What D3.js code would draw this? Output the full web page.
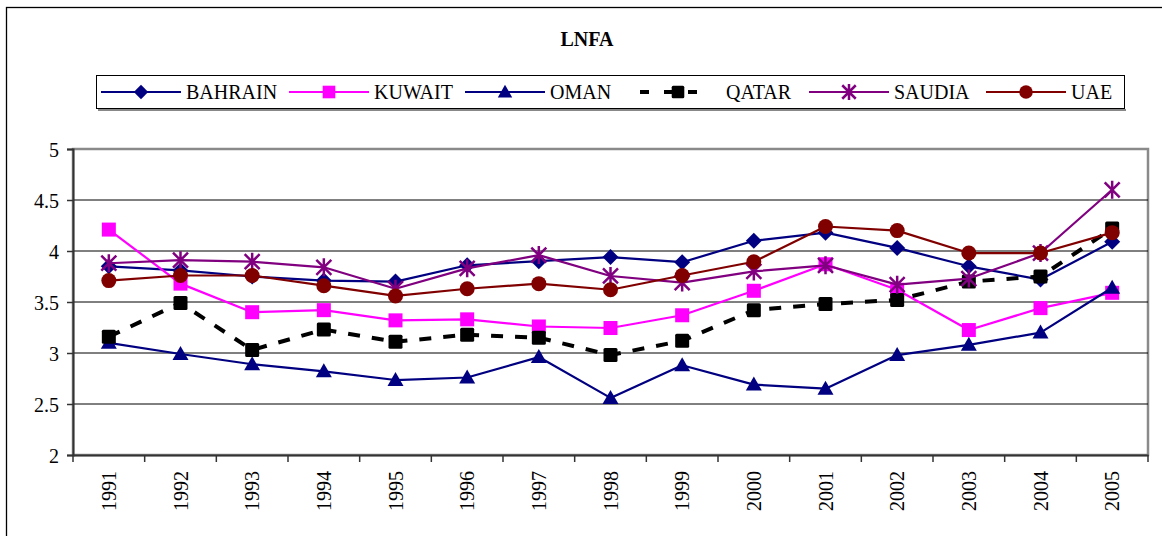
<!DOCTYPE html>
<html><head><meta charset="utf-8">
<script src="https://cdn.jsdelivr.net/npm/d3@7"></script>
<style>body{margin:0;background:#fff;} svg{display:block;}</style>
</head><body>
<svg id="c" width="1162" height="536"></svg>
<script>
const years = ["1991","1992","1993","1994","1995","1996","1997","1998","1999","2000","2001","2002","2003","2004","2005"];
const bahrain = [3.85,3.81,3.75,3.71,3.70,3.86,3.90,3.94,3.89,4.10,4.18,4.03,3.85,3.72,4.09];
const kuwait  = [4.21,3.68,3.40,3.42,3.32,3.33,3.26,3.245,3.37,3.61,3.87,3.62,3.225,3.44,3.59];
const oman    = [3.10,2.99,2.89,2.82,2.735,2.76,2.96,2.56,2.88,2.69,2.65,2.98,3.08,3.20,3.64];
const qatar   = [3.16,3.49,3.03,3.23,3.11,3.18,3.15,2.98,3.12,3.42,3.48,3.52,3.70,3.75,4.22];
const saudia  = [3.88,3.91,3.895,3.84,3.63,3.83,3.96,3.755,3.69,3.80,3.86,3.67,3.73,3.98,4.60];
const uae     = [3.71,3.76,3.76,3.66,3.56,3.63,3.68,3.62,3.76,3.895,4.24,4.20,3.98,3.98,4.18];
const seriesNames = ["BAHRAIN","KUWAIT","OMAN","QATAR","SAUDIA","UAE"];
const yTicks = [2,2.5,3,3.5,4,4.5,5];

const series = [
  {name:seriesNames[0], values:bahrain, color:"#000080", marker:"diamond", dash:null, width:2.2},
  {name:seriesNames[1], values:kuwait,  color:"#FF00FF", marker:"square",  dash:null, width:2.2},
  {name:seriesNames[2], values:oman,    color:"#000080", marker:"triangle",dash:null, width:2.2},
  {name:seriesNames[3], values:qatar,   color:"#000000", marker:"bsquare", dash:"12,12", width:4},
  {name:seriesNames[4], values:saudia,  color:"#800080", marker:"star",    dash:null, width:2.2},
  {name:seriesNames[5], values:uae,     color:"#800000", marker:"circle",  dash:null, width:2.2}
];

const svg = d3.select("#c");
const font = "'Liberation Serif', Tinos, 'Times New Roman', Times, 'DejaVu Serif', 'Noto Serif', serif";

// outer frame
svg.append("rect").attr("x",6.5).attr("y",7.5).attr("width",1170).attr("height",560)
  .attr("fill","none").attr("stroke","#000").attr("stroke-width",1.3);

// title
svg.append("text").attr("x",587).attr("y",46).attr("text-anchor","middle")
  .style("font-family",font).style("font-weight","bold").style("font-size","20px").text("LNFA");

const L=73, R=1148, T=149, B=455;
const x = d3.scaleBand().domain(years).range([L,R]);
const y = d3.scaleLinear().domain([2,5]).range([B,T]);

// plot area border (gray, top/right)
svg.append("rect").attr("x",L).attr("y",T).attr("width",R-L).attr("height",B-T)
  .attr("fill","none").attr("stroke","#8a8a8a").attr("stroke-width",2.5);

// gridlines
svg.append("g").selectAll("line").data(yTicks.filter(d=>d>2 && d<5)).join("line")
  .attr("x1",L).attr("x2",R).attr("y1",d=>y(d)).attr("y2",d=>y(d))
  .attr("stroke","#000").attr("stroke-width",1);

// y axis
const yAxis = d3.axisLeft(y).tickValues(yTicks).tickSize(6).tickFormat(d=>d3.format("")(d));
const gy = svg.append("g").attr("transform",`translate(${L},0)`).call(yAxis);
gy.attr("font-family",null).attr("font-size",null);
gy.select(".domain").attr("stroke","#333").attr("stroke-width",2);
gy.selectAll(".tick line").attr("stroke","#333").attr("stroke-width",1.5);
gy.selectAll("text").style("font-family",font).style("font-size","20px").attr("fill","#000").attr("x",-14).attr("dy","0.35em");

// x axis
const xAxis = d3.axisBottom(x).tickSize(0);
const gx = svg.append("g").attr("transform",`translate(0,${B})`).call(xAxis);
gx.attr("font-family",null).attr("font-size",null);
gx.select(".domain").attr("stroke","#333").attr("stroke-width",2);
gx.selectAll(".tick text").style("font-family",font).style("font-size","20px").attr("fill","#000")
  .attr("transform","rotate(-90)").attr("text-anchor","end").attr("x",-16).attr("y",0).attr("dy","0.35em");
// tick marks at band boundaries
const bounds = years.map(d=>x(d)).concat([R]);
svg.append("g").selectAll("line").data(bounds).join("line")
  .attr("x1",d=>d).attr("x2",d=>d).attr("y1",B).attr("y2",B+7)
  .attr("stroke","#333").attr("stroke-width",1.5);

function drawMarker(g, type, color, cx, cy, s){
  const sz = s||1;
  if(type==="diamond"){
    g.append("path").attr("d",`M${cx},${cy-8*sz}L${cx+8*sz},${cy}L${cx},${cy+8*sz}L${cx-8*sz},${cy}Z`).attr("fill",color);
  } else if(type==="square" || type==="bsquare"){
    const h=7*sz;
    g.append("rect").attr("x",cx-h).attr("y",cy-h).attr("width",2*h).attr("height",2*h).attr("fill",color).attr("rx",type==="bsquare"?1.5:0);
  } else if(type==="triangle"){
    g.append("path").attr("d",`M${cx},${cy-8*sz}L${cx+8*sz},${cy+6*sz}L${cx-8*sz},${cy+6*sz}Z`).attr("fill",color);
  } else if(type==="circle"){
    g.append("circle").attr("cx",cx).attr("cy",cy).attr("r",7.5*sz).attr("fill",color);
  } else if(type==="star"){
    const r=7.5*sz;
    const p = `M${cx-r},${cy-r}L${cx+r},${cy+r}M${cx-r},${cy+r}L${cx+r},${cy-r}M${cx},${cy-r*1.2}L${cx},${cy+r*1.2}`;
    g.append("path").attr("d",p).attr("stroke",color).attr("stroke-width",2.5).attr("fill","none");
  }
}

const line = d3.line().x((d,i)=>x(years[i])+x.bandwidth()/2).y(d=>y(d));
series.forEach(s=>{
  const g = svg.append("g");
  g.append("path").datum(s.values).attr("d",line).attr("fill","none")
    .attr("stroke",s.color).attr("stroke-width",s.width)
    .attr("stroke-dasharray",s.dash).attr("stroke-linejoin","round");
  s.values.forEach((v,i)=>drawMarker(g,s.marker,s.color,x(years[i])+x.bandwidth()/2,y(v)));
});

// legend
const lg = svg.append("g");
lg.append("rect").attr("x",98).attr("y",109).attr("width",1028).attr("height",2).attr("fill","#888");
lg.append("rect").attr("x",96.5).attr("y",75.5).attr("width",1028).attr("height",33)
  .attr("fill","#fff").attr("stroke","#000").attr("stroke-width",1);
const legX = [101,289,465,640,809,986];
series.forEach((s,i)=>{
  const x0 = legX[i], cy = 92;
  const lw = s.dash ? 72 : 80;
  if(s.dash){
    lg.append("line").attr("x1",x0).attr("x2",x0+lw).attr("y1",cy).attr("y2",cy)
      .attr("stroke",s.color).attr("stroke-width",4).attr("stroke-dasharray","9,15");
  } else {
    lg.append("line").attr("x1",x0).attr("x2",x0+lw).attr("y1",cy).attr("y2",cy)
      .attr("stroke",s.color).attr("stroke-width",s.width);
  }
  drawMarker(lg,s.marker,s.color,x0+(s.dash?38:40),cy,0.9);
  lg.append("text").attr("x",x0+lw+(s.dash?14:5)).attr("y",cy).attr("dy","0.35em")
    .style("font-family",font).style("font-size","20px").text(s.name);
});
</script>
</body></html>
